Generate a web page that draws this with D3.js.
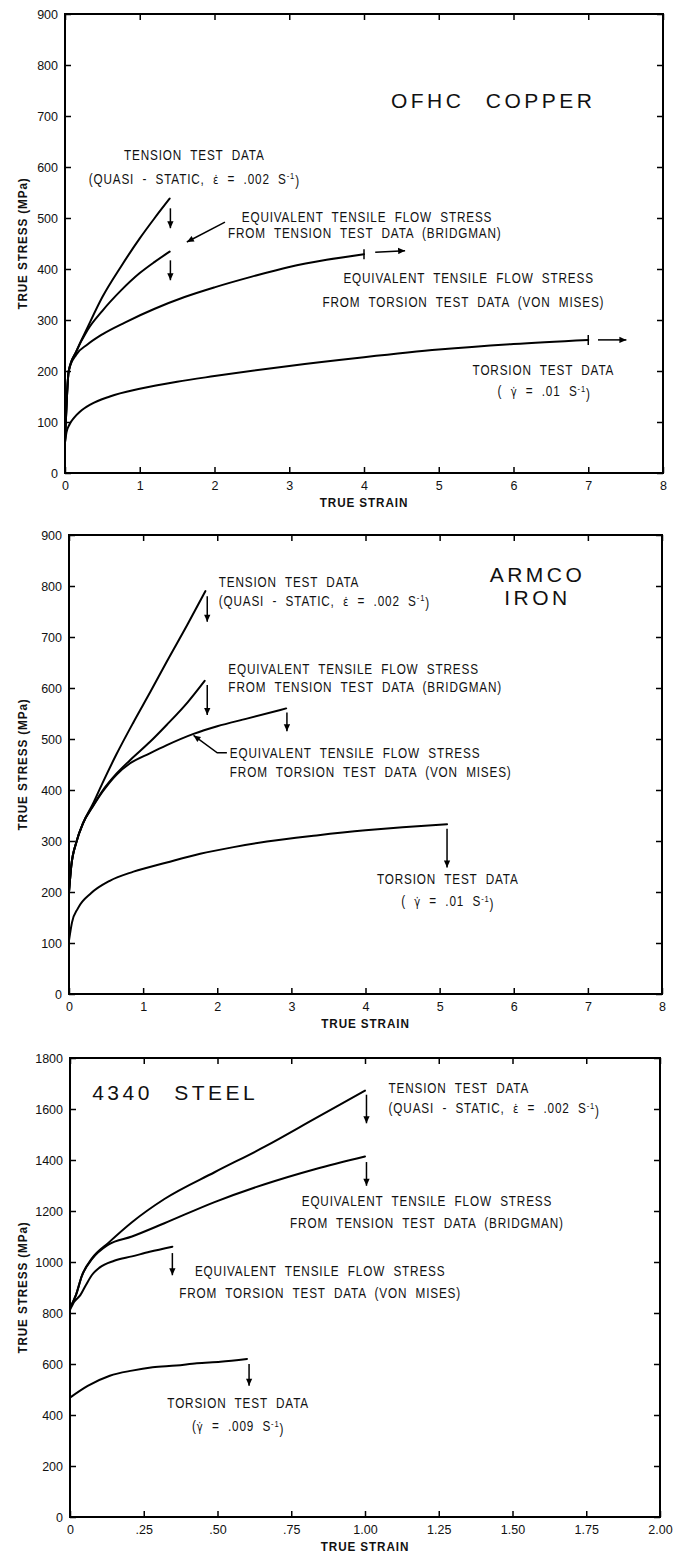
<!DOCTYPE html>
<html><head><meta charset="utf-8">
<script src="https://cdn.jsdelivr.net/npm/d3@7"></script>
<style>
html,body{margin:0;padding:0;background:#fff;}
svg{display:block;background:#fff;}
.ann{font-family:"Liberation Sans Narrow","Liberation Sans",sans-serif;font-size:14px;letter-spacing:1px;word-spacing:5px;fill:#111;}
.title{font-family:"Liberation Sans",sans-serif;font-size:21px;letter-spacing:3.5px;word-spacing:12px;fill:#111;}
.tick text{font-family:"Liberation Sans",sans-serif;font-size:12.5px;fill:#111;}
.axtitle{font-family:"Liberation Sans",sans-serif;font-size:13px;font-weight:bold;letter-spacing:1px;fill:#111;}
.curve{fill:none;stroke:#000;stroke-width:2;stroke-linejoin:round;stroke-linecap:round;}
.arrow{fill:none;stroke:#000;stroke-width:1.5;}
</style></head>
<body><svg id="c" width="693" height="1558"></svg>
<script>
// ---------------- Panel 1: OFHC copper ----------------
const cuStrainTicks = [0,1,2,3,4,5,6,7,8];
const cuStressTicks = [0,100,200,300,400,500,600,700,800,900];
const cuTensionStrain  = [0, 0.05, 0.15, 0.3, 0.5, 0.75, 1.0, 1.2, 1.4];
const cuTensionStress  = [60, 200, 238, 285, 345, 405, 460, 500, 538];
const cuBridgmanStrain = [0, 0.05, 0.15, 0.3, 0.5, 0.75, 1.0, 1.2, 1.4];
const cuBridgmanStress = [60, 200, 238, 280, 318, 358, 392, 414, 434];
const cuVonMisesStrain = [0, 0.05, 0.15, 0.3, 0.5, 0.8, 1.2, 1.6, 2.0, 2.5, 3.0, 3.5, 4.0];
const cuVonMisesStress = [60, 200, 232, 252, 272, 295, 322, 345, 364, 385, 404, 418, 429];
const cuTorsionStrain  = [0, 0.02, 0.06, 0.12, 0.2, 0.35, 0.6, 1.0, 1.5, 2.0, 3.0, 4.0, 5.0, 6.0, 7.0];
const cuTorsionStress  = [60, 80, 95, 108, 120, 135, 150, 165, 179, 190, 210, 227, 242, 253, 261];

// ---------------- Panel 2: Armco iron ----------------
const feStrainTicks = [0,1,2,3,4,5,6,7,8];
const feStressTicks = [0,100,200,300,400,500,600,700,800,900];
const feTensionStrain  = [0, 0.03, 0.1, 0.19, 0.32, 0.45, 0.64, 0.87, 1.1, 1.32, 1.6, 1.84];
const feTensionStress  = [200, 250, 298, 335, 372, 413, 470, 533, 593, 652, 725, 790];
const feBridgmanStrain = [0, 0.03, 0.1, 0.19, 0.32, 0.45, 0.64, 0.82, 1.09, 1.32, 1.6, 1.83];
const feBridgmanStress = [200, 250, 298, 335, 368, 398, 432, 458, 494, 528, 572, 614];
const feVonMisesStrain = [0, 0.03, 0.1, 0.19, 0.32, 0.45, 0.64, 0.82, 1.09, 1.32, 1.68, 2.0, 2.4, 2.93];
const feVonMisesStress = [200, 250, 298, 335, 367, 396, 430, 452, 472, 488, 510, 525, 540, 560];
const feTorsionStrain  = [0, 0.04, 0.12, 0.3, 0.55, 0.87, 1.32, 1.77, 2.22, 2.67, 3.34, 4.0, 4.5, 5.1];
const feTorsionStress  = [105, 140, 168, 198, 222, 240, 258, 275, 288, 299, 311, 321, 327, 333];

// ---------------- Panel 3: 4340 steel ----------------
const stStrainTicks = [0, 0.25, 0.5, 0.75, 1.0, 1.25, 1.5, 1.75, 2.0];
const stStrainTickLabels = ["0", ".25", ".50", ".75", "1.00", "1.25", "1.50", "1.75", "2.00"];
const stStressTicks = [0,200,400,600,800,1000,1200,1400,1600,1800];
const stTensionStrain  = [0, 0.02, 0.04, 0.075, 0.13, 0.21, 0.32, 0.49, 0.66, 0.83, 1.0];
const stTensionStress  = [820, 870, 945, 1015, 1075, 1156, 1247, 1352, 1452, 1562, 1672];
const stBridgmanStrain = [0, 0.02, 0.04, 0.075, 0.13, 0.21, 0.32, 0.49, 0.66, 0.83, 1.0];
const stBridgmanStress = [820, 870, 945, 1012, 1068, 1100, 1152, 1235, 1305, 1364, 1414];
const stVonMisesStrain = [0, 0.015, 0.035, 0.055, 0.075, 0.1, 0.15, 0.21, 0.27, 0.347];
const stVonMisesStress = [812, 845, 870, 912, 950, 978, 1005, 1022, 1040, 1060];
const stTorsionStrain  = [0, 0.06, 0.135, 0.21, 0.28, 0.36, 0.43, 0.51, 0.6];
const stTorsionStress  = [468, 514, 554, 574, 587, 594, 603, 609, 620];

// text
const epsRate = ["(QUASI - STATIC, ", "ε̇", " = .002 S", "-1", ")"];
const gamRate01 = ["( ", "γ̇", " = .01 S", "-1", ")"];
const gamRate009 = ["(", "γ̇", " = .009 S", "-1", ")"];
const lblTension = "TENSION TEST DATA";
const lblEquiv = "EQUIVALENT TENSILE FLOW STRESS";
const lblBridg = "FROM TENSION TEST DATA (BRIDGMAN)";
const lblVonM = "FROM TORSION TEST DATA (VON MISES)";
const lblTorsion = "TORSION TEST DATA";

const svg = d3.select("#c");
const defs = svg.append("defs");
defs.append("marker").attr("id","ah").attr("viewBox","0 0 10 10")
  .attr("refX",10).attr("refY",5).attr("markerWidth",8).attr("markerHeight",7)
  .attr("markerUnits","userSpaceOnUse").attr("orient","auto")
  .append("path").attr("d","M0,0.5 L10,5 L0,9.5 Z").attr("fill","#000");

function addText(g, cls, parts, px, py, anchor, sx){
  const t = g.append("text").attr("class",cls)
    .attr("transform",`translate(${px},${py}) scale(${sx||1},1)`)
    .attr("dy","0.36em").attr("text-anchor",anchor||"start");
  if (typeof parts === "string") { t.text(parts); return t; }
  t.append("tspan").text(parts[0]);
  t.append("tspan").attr("font-family","DejaVu Sans").attr("font-size","12px").text(parts[1]);
  t.append("tspan").text(parts[2]);
  t.append("tspan").attr("font-size","9px").attr("dy","-0.5em").text(parts[3]);
  t.append("tspan").attr("dy","0.5em").text(parts[4]);
  return t;
}

function drawPanel(p){
  const g = svg.append("g");
  const x = d3.scaleLinear().domain(p.xDomain).range([p.left, p.right]);
  const y = d3.scaleLinear().domain(p.yDomain).range([p.bottom, p.top]);
  const tk = 6;
  g.append("g").attr("transform",`translate(0,${p.bottom})`)
    .call(d3.axisBottom(x).tickValues(p.xTicks).tickSize(-tk).tickPadding(8)
      .tickFormat((d,i)=> p.xLabels ? p.xLabels[i] : d3.format("d")(d)));
  g.append("g").attr("transform",`translate(0,${p.top})`)
    .call(d3.axisTop(x).tickValues(p.xTicks).tickSize(-tk).tickFormat(""));
  g.append("g").attr("transform",`translate(${p.left},0)`)
    .call(d3.axisLeft(y).tickValues(p.yTicks).tickSize(-tk).tickPadding(7).tickFormat(d3.format("d")));
  g.append("g").attr("transform",`translate(${p.right},0)`)
    .call(d3.axisRight(y).tickValues(p.yTicks).tickSize(-tk).tickFormat(""));
  g.selectAll(".domain").remove();
  g.selectAll(".tick line").attr("stroke","#000").attr("stroke-width",1.5);
  g.append("rect").attr("x",p.left).attr("y",p.top)
    .attr("width",p.right-p.left).attr("height",p.bottom-p.top)
    .attr("fill","none").attr("stroke","#000").attr("stroke-width",2);
  g.append("text").attr("class","axtitle").attr("text-anchor","middle")
    .attr("transform",`translate(${(p.left+p.right)/2},${p.bottom+34}) scale(0.9,1)`).text("TRUE STRAIN");
  g.append("text").attr("class","axtitle").attr("text-anchor","middle")
    .attr("transform",`translate(22,${(p.top+p.bottom)/2}) rotate(-90) scale(0.9,1)`)
    .attr("dy","0.35em").text("TRUE STRESS (MPa)");
  const line = d3.line().x(d=>x(d[0])).y(d=>y(d[1])).curve(d3.curveMonotoneX);
  p.series.forEach(s=>{
    g.append("path").attr("class","curve").attr("d", line(d3.zip(s[0], s[1])));
  });
  p.arrows.forEach(a=>{
    const pts = a.map(q=>[x(q[0]), y(q[1])]);
    g.append("path").attr("class","arrow").attr("d", d3.line()(pts)).attr("marker-end","url(#ah)");
  });
  (p.ends||[]).forEach(e=>{
    g.append("line").attr("x1",x(e[0])).attr("x2",x(e[0]))
      .attr("y1",y(e[1])-5).attr("y2",y(e[1])+5).attr("stroke","#000").attr("stroke-width",1.5);
  });
  p.labels.forEach(l=> addText(g, "ann", l.t, x(l.x), y(l.y), l.a, 0.84));
  p.titles.forEach(l=> addText(g, "title", l.t, x(l.x), y(l.y), l.a, 1));
}

drawPanel({
  left:65, right:663, top:14, bottom:473,
  xDomain:[0,8], yDomain:[0,900], xTicks:cuStrainTicks, yTicks:cuStressTicks,
  series:[[cuTensionStrain,cuTensionStress],[cuBridgmanStrain,cuBridgmanStress],
          [cuVonMisesStrain,cuVonMisesStress],[cuTorsionStrain,cuTorsionStress]],
  arrows:[ [[1.41,519],[1.41,480]], [[1.41,417],[1.41,378]],
           [[2.14,492],[1.63,453]], [[4.15,433],[4.55,436]], [[7.13,261],[7.51,261]] ],
  ends:[[4.0,429],[7.0,261]],
  labels:[
    {t:lblTension, x:1.73, y:623, a:"middle"},
    {t:epsRate, x:1.73, y:577, a:"middle"},
    {t:lblEquiv, x:4.04, y:502, a:"middle"},
    {t:lblBridg, x:4.01, y:470, a:"middle"},
    {t:lblEquiv, x:5.40, y:382, a:"middle"},
    {t:lblVonM, x:5.33, y:336, a:"middle"},
    {t:lblTorsion, x:6.40, y:202, a:"middle"},
    {t:gamRate01, x:6.41, y:160, a:"middle"}
  ],
  titles:[{t:"OFHC  COPPER", x:4.36, y:730, a:"start"}]
});

drawPanel({
  left:69, right:662, top:535, bottom:994,
  xDomain:[0,8], yDomain:[0,900], xTicks:feStrainTicks, yTicks:feStressTicks,
  series:[[feTensionStrain,feTensionStress],[feBridgmanStrain,feBridgmanStress],
          [feVonMisesStrain,feVonMisesStress],[feTorsionStrain,feTorsionStress]],
  arrows:[ [[1.865,780],[1.865,730]], [[1.865,606],[1.865,547]], [[2.94,552],[2.94,515]],
           [[5.1,324],[5.1,248]], [[2.13,473],[2.0,473],[1.68,507]] ],
  ends:[],
  labels:[
    {t:lblTension, x:2.02, y:808, a:"start"},
    {t:epsRate, x:2.02, y:771, a:"start"},
    {t:lblEquiv, x:2.15, y:638, a:"start"},
    {t:lblBridg, x:2.15, y:603, a:"start"},
    {t:lblEquiv, x:2.17, y:473, a:"start"},
    {t:lblVonM, x:2.17, y:435, a:"start"},
    {t:lblTorsion, x:5.11, y:225, a:"middle"},
    {t:gamRate01, x:5.11, y:182, a:"middle"}
  ],
  titles:[{t:"ARMCO", x:6.32, y:823, a:"middle"},{t:"IRON", x:6.32, y:778, a:"middle"}]
});

drawPanel({
  left:70, right:660, top:1058, bottom:1517,
  xDomain:[0,2], yDomain:[0,1800], xTicks:stStrainTicks, xLabels:stStrainTickLabels, yTicks:stStressTicks,
  series:[[stTensionStrain,stTensionStress],[stBridgmanStrain,stBridgmanStress],
          [stVonMisesStrain,stVonMisesStress],[stTorsionStrain,stTorsionStress]],
  arrows:[ [[1.005,1656],[1.005,1544]], [[1.005,1392],[1.005,1299]],
           [[0.347,1035],[0.347,948]], [[0.607,600],[0.607,515]] ],
  ends:[],
  labels:[
    {t:lblTension, x:1.08, y:1682, a:"start"},
    {t:epsRate, x:1.08, y:1603, a:"start"},
    {t:lblEquiv, x:1.21, y:1240, a:"middle"},
    {t:lblBridg, x:1.21, y:1154, a:"middle"},
    {t:lblEquiv, x:0.848, y:963, a:"middle"},
    {t:lblVonM, x:0.848, y:877, a:"middle"},
    {t:lblTorsion, x:0.57, y:449, a:"middle"},
    {t:gamRate009, x:0.57, y:356, a:"middle"}
  ],
  titles:[{t:"4340  STEEL", x:0.075, y:1665, a:"start"}]
});
</script></body></html>
